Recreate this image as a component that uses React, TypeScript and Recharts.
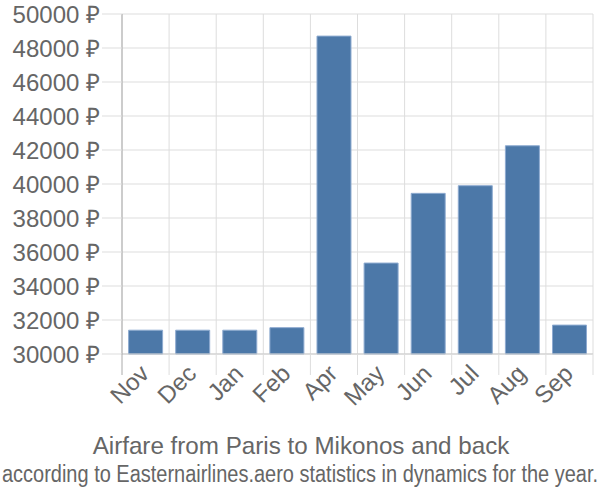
import React from "react";
import { BarChart, Bar, XAxis, YAxis, CartesianGrid } from "recharts";

const months = ["Nov", "Dec", "Jan", "Feb", "Apr", "May", "Jun", "Jul", "Aug", "Sep"];
const prices = [31400, 31400, 31400, 31550, 48700, 35350, 39450, 39900, 42250, 31700];
const yTicks = [30000, 32000, 34000, 36000, 38000, 40000, 42000, 44000, 46000, 48000, 50000];
const titleText = "Airfare from Paris to Mikonos and back";
const subtitleText = "according to Easternairlines.aero statistics in dynamics for the year.";

const data = months.map((m, i) => ({ month: m, price: prices[i] }));

const FONT = "'Liberation Sans', Arial, sans-serif";
const TEXT = "#666666";
const GRID = "#dddddd";

const XTick = (props: any) => {
  const { x, y, payload, width, visibleTicksCount, index } = props;
  const band = width / visibleTicksCount;
  const left = x - band / 2;
  const right = x + band / 2;
  return (
    <g>
      <line x1={left} x2={left} y1={y} y2={y + 21} stroke={index === 0 ? "#aaaaaa" : GRID} strokeWidth={1} />
      {index === visibleTicksCount - 1 && (
        <line x1={right} x2={right} y1={y} y2={y + 21} stroke={GRID} strokeWidth={1} />
      )}
      <text
        x={x + 5}
        y={y + 21}
        transform={`rotate(-45 ${x + 5} ${y + 21})`}
        textAnchor="end"
        fill={TEXT}
        fontSize={24}
        fontFamily={FONT}
      >
        {payload.value}
      </text>
    </g>
  );
};

export default function App() {
  return (
    <div style={{ position: "absolute", left: 0, top: 0, width: 600, height: 500, background: "#fff" }}>
      <BarChart
        width={600}
        height={500}
        data={data}
        margin={{ top: 14, right: 7, bottom: 80, left: 0 }}
        barCategoryGap="14%"
      >
        <CartesianGrid
          stroke={GRID}
          strokeWidth={1}
          verticalCoordinatesGenerator={({ offset }: any) =>
            months.map((_, i) => offset.left + (i * offset.width) / months.length).concat([offset.left + offset.width])
          }
        />
        <XAxis
          dataKey="month"
          interval={0}
          tickSize={0}
          tickMargin={0}
          tickLine={false}
          axisLine={{ stroke: "#cccccc" }}
          height={66}
          tick={<XTick />}
        />
        <YAxis
          domain={[30000, 50000]}
          ticks={yTicks}
          interval={0}
          width={122}
          tickSize={20}
          tickMargin={2}
          tickLine={{ stroke: GRID }}
          axisLine={{ stroke: "#aaaaaa" }}
          tickFormatter={(v: number) => `${v} ₽`}
          tick={{ fill: TEXT, fontSize: 24, fontFamily: FONT }}
        />
        <Bar dataKey="price" fill="#4c78a8" stroke="#8eabd0" strokeWidth={1} isAnimationActive={false} />
      </BarChart>
      <svg width={600} height={500} style={{ position: "absolute", left: 0, top: 0, pointerEvents: "none" }}>
        <text x={301} y={454} textAnchor="middle" fill={TEXT} fontSize={24.2} fontFamily={FONT}>
          {titleText}
        </text>
        <text
          x={300}
          y={482}
          textAnchor="middle"
          fill={TEXT}
          fontSize={23}
          fontFamily={FONT}
          textLength={596}
          lengthAdjust="spacingAndGlyphs"
        >
          {subtitleText}
        </text>
      </svg>
    </div>
  );
}
